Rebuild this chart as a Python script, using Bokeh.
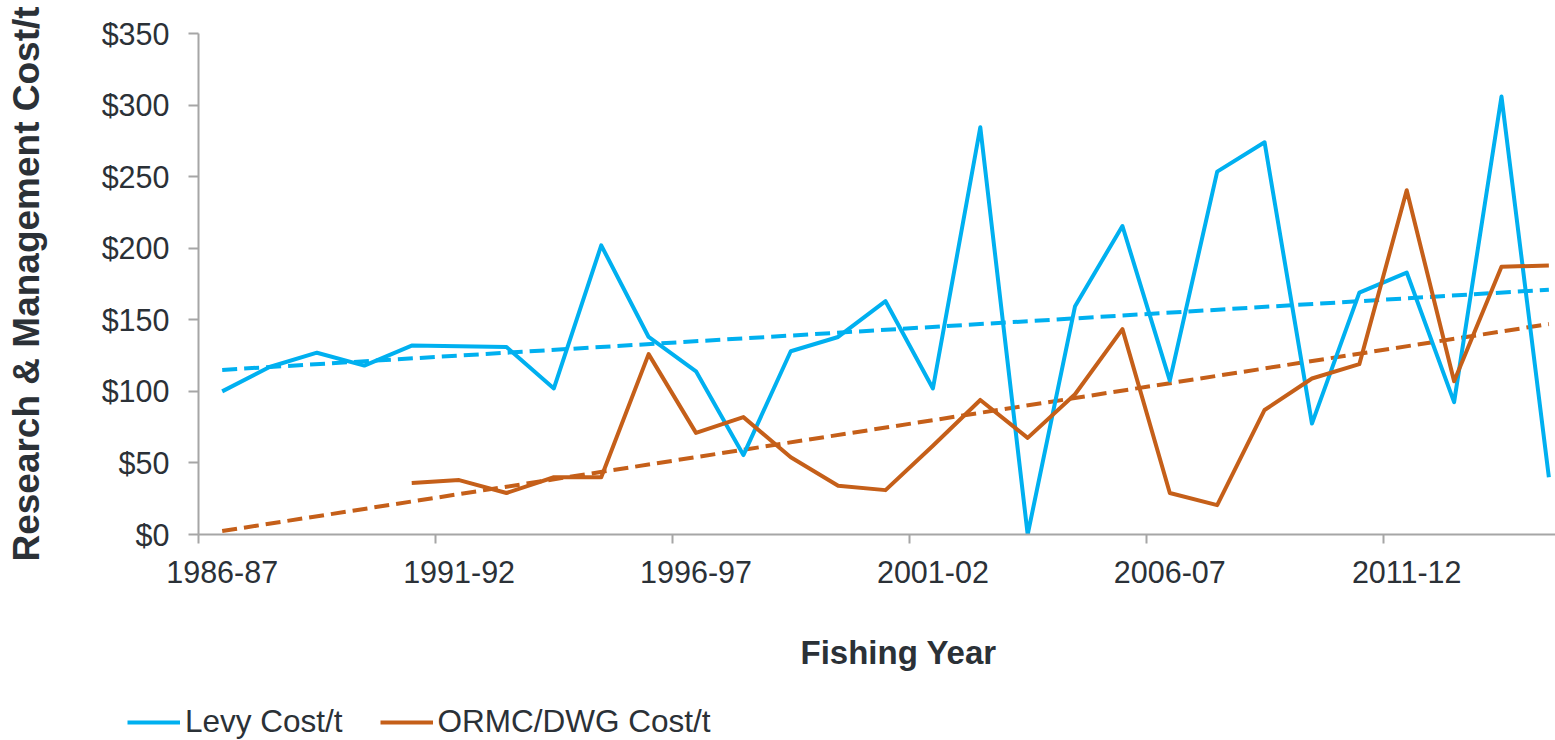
import numpy as np
from bokeh.plotting import figure
from bokeh.layouts import column
from bokeh.models import Range1d, FixedTicker, PrintfTickFormatter, Legend, LegendItem, Label
from bokeh.embed import file_html
from bokeh.resources import INLINE

# ---- data ----
categories = ["1986-87", "1987-88", "1988-89", "1989-90", "1990-91", "1991-92", "1992-93",
              "1993-94", "1994-95", "1995-96", "1996-97", "1997-98", "1998-99", "1999-00",
              "2000-01", "2001-02", "2002-03", "2003-04", "2004-05", "2005-06", "2006-07",
              "2007-08", "2008-09", "2009-10", "2010-11", "2011-12", "2012-13", "2013-14",
              "2014-15"]
levy_cost = [100, 117, 127, 118, 132, 131.5, 131, 102, 202, 138, 114, 55.5, 128, 138, 163,
             102, 284.5, 0, 159.5, 215.5, 107.5, 253.5, 274, 77.5, 169, 183, 92.5, 306, 40]
ormc_cost = [np.nan, np.nan, np.nan, np.nan, 36, 38, 29, 40, 40, 126, 71, 82, 54, 34, 31,
             62, 94, 67.5, 98, 143.5, 29, 20.5, 87, 109, 119, 240.5, 107, 187, 188]
levy_trend = [115.0, 171.0]   # linear trend, first and last category
ormc_trend = [2.4, 147.0]
y_ticks = [0, 50, 100, 150, 200, 250, 300, 350]
label_every = 5
series_names = ["Levy Cost/t", "ORMC/DWG Cost/t"]
x_title = "Fishing Year"
y_title = "Research & Management Cost/t"

BLUE = "#00B0F0"
ORANGE = "#C55F19"
TEXT = "#2B3137"
AXIS = "#A6A6A6"
FONT = "Liberation Sans"
LW = 4

x = np.arange(len(categories)) + 0.5
trend_x = [x[0], x[-1]]

p = figure(width=1555, height=600, output_backend="svg", toolbar_location=None,
           x_range=Range1d(0, 28.64), y_range=Range1d(0, 350),
           min_border_left=198, min_border_right=0, min_border_top=33, min_border_bottom=66)
p.frame_align = False
p.outline_line_color = None
p.grid.visible = False
p.background_fill_color = "white"
p.border_fill_color = "white"

# x axis: tick marks at category boundaries, labels at category centres
xa = p.xaxis[0]
xa.ticker = FixedTicker(ticks=[float(v) for v in x[::label_every]],
                        minor_ticks=[float(v) for v in np.arange(0, len(categories), label_every)])
xa.major_label_overrides = {float(x[i]): categories[i] for i in range(0, len(categories), label_every)}
xa.major_tick_out = 0
xa.major_tick_in = 0
xa.minor_tick_out = 9
xa.minor_tick_in = 0
xa.minor_tick_line_color = AXIS
xa.minor_tick_line_width = 2
xa.axis_line_color = AXIS
xa.axis_line_width = 2
xa.major_label_text_font = FONT
xa.major_label_text_font_size = "30.5px"
xa.major_label_text_color = TEXT
xa.major_label_standoff = 17

ya = p.yaxis[0]
ya.ticker = FixedTicker(ticks=y_ticks, minor_ticks=[])
ya.formatter = PrintfTickFormatter(format="$%d")
ya.major_tick_out = 10
ya.major_tick_in = 0
ya.minor_tick_out = 0
ya.minor_tick_in = 0
ya.major_tick_line_color = AXIS
ya.major_tick_line_width = 2
ya.axis_line_color = AXIS
ya.axis_line_width = 2
ya.major_label_text_font = FONT
ya.major_label_text_font_size = "30.5px"
ya.major_label_text_color = TEXT
ya.major_label_standoff = 19
ya.axis_label = y_title
ya.axis_label_text_font = FONT
ya.axis_label_text_font_size = "37px"
ya.axis_label_text_font_style = "bold"
ya.axis_label_text_color = TEXT
ya.axis_label_standoff = 52

# trend lines
p.line(trend_x, levy_trend, line_color=BLUE, line_width=LW, line_dash="15 7")
p.line(trend_x, ormc_trend, line_color=ORANGE, line_width=LW, line_dash="15 7")

# series
p.line(x, levy_cost, line_color=BLUE, line_width=LW, line_join="round")
p.line(x, ormc_cost, line_color=ORANGE, line_width=LW, line_join="round")

# strip under the chart: x-axis title and legend
lg = figure(width=1555, height=140, output_backend="svg", toolbar_location=None,
            x_axis_location=None, y_axis_location=None,
            x_range=Range1d(0, 1), y_range=Range1d(0, 1),
            min_border_left=0, min_border_right=0, min_border_top=0, min_border_bottom=0)
lg.frame_align = False
lg.outline_line_color = None
lg.grid.visible = False
k1 = lg.line(x, levy_cost, line_color=BLUE, line_width=LW, visible=False)
k2 = lg.line(x, ormc_cost, line_color=ORANGE, line_width=LW, visible=False)
legend = Legend(items=[LegendItem(label=series_names[0], renderers=[k1]),
                       LegendItem(label=series_names[1], renderers=[k2])],
                location=(127, 0), orientation="horizontal",
                glyph_width=53, glyph_height=30, label_height=36, label_standoff=5, spacing=37,
                padding=0, margin=0, border_line_alpha=0, background_fill_alpha=0,
                label_text_font=FONT, label_text_font_size="31.5px", label_text_color=TEXT)
lg.add_layout(legend, "center")
lg.add_layout(Label(x=800, y=88, x_units="screen", y_units="screen", text=x_title,
                    text_font=FONT, text_font_size="33px", text_font_style="bold",
                    text_color=TEXT, text_baseline="alphabetic"))

open("out.html", "w").write(file_html(column(p, lg, spacing=0), INLINE))
